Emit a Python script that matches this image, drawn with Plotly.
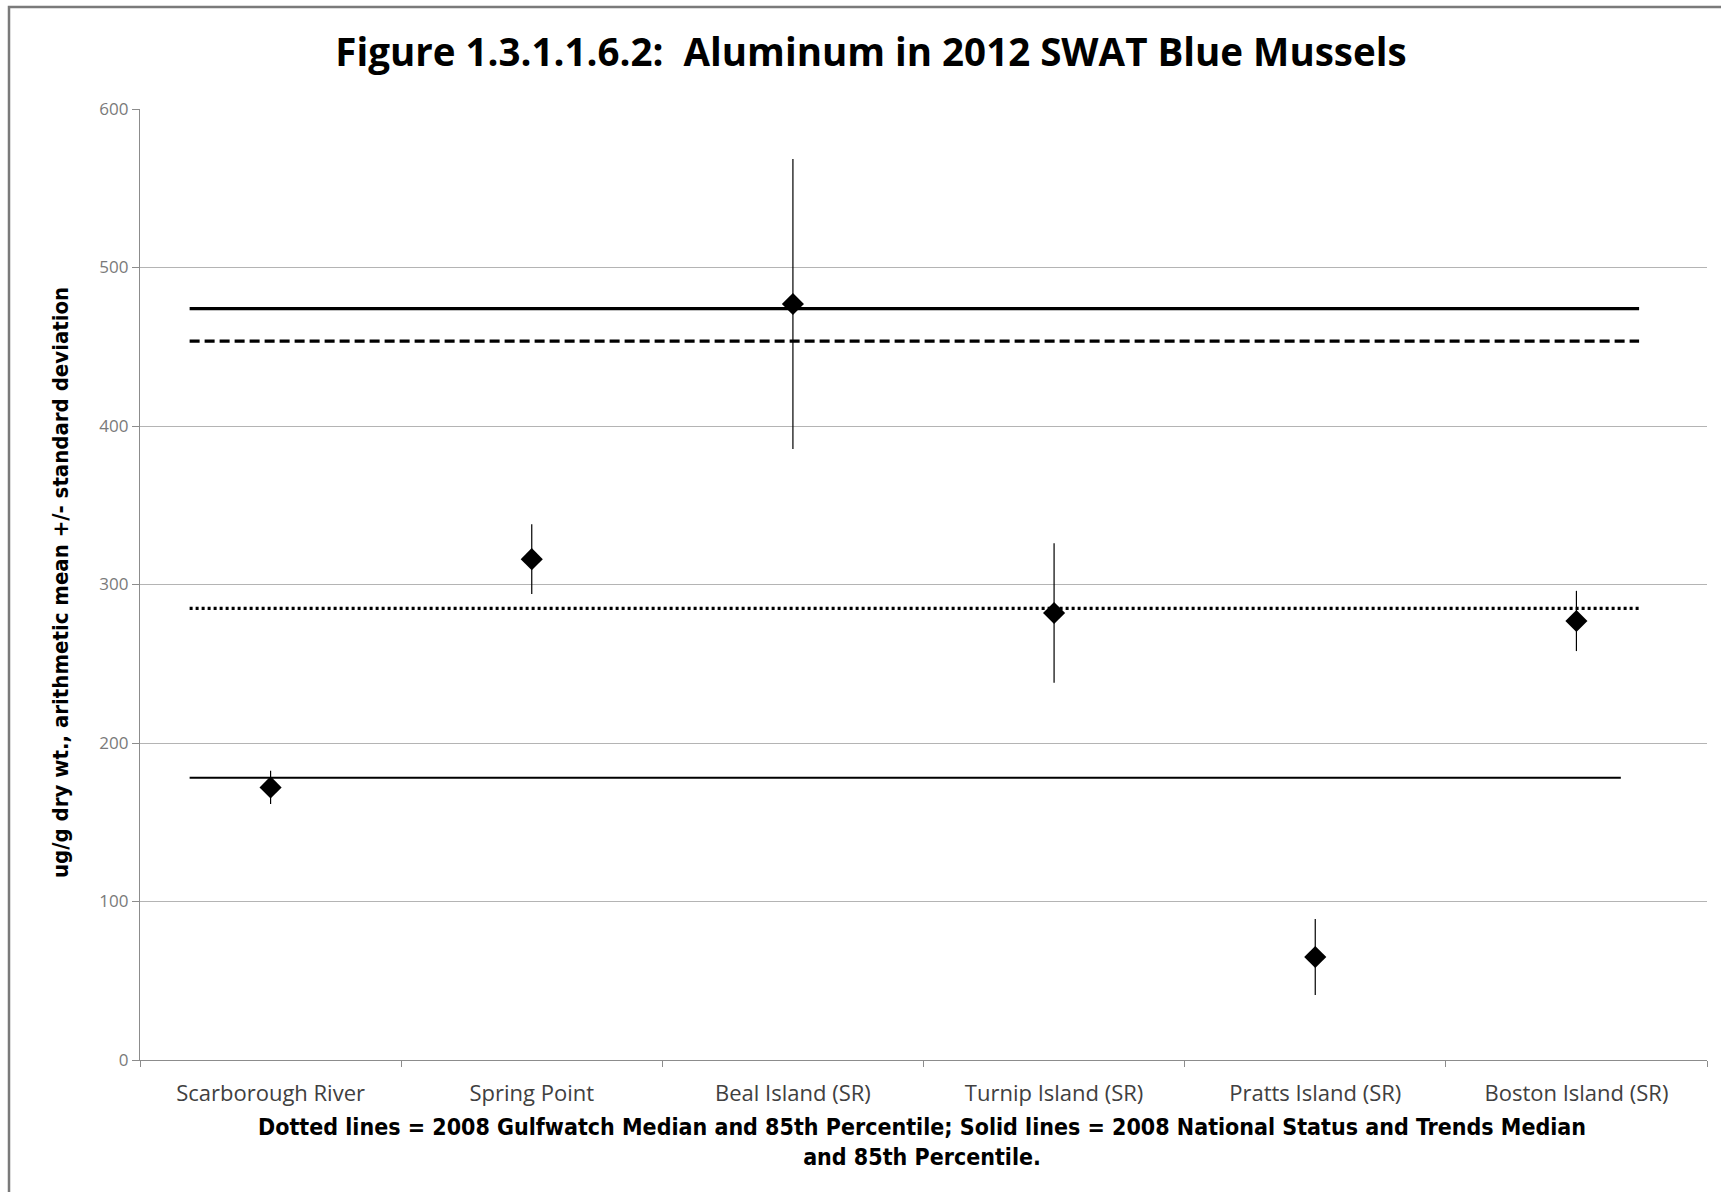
import plotly.graph_objects as go

# ---- data ----
sites = ["Scarborough River", "Spring Point", "Beal Island (SR)",
         "Turnip Island (SR)", "Pratts Island (SR)", "Boston Island (SR)"]
mean_al = [172, 316, 477, 282, 65, 277]
sd_al = [10.5, 22, 91.5, 44, 24, 19]

nst_85th = 474        # solid thick (National Status & Trends 85th pct)
gulf_85th = 453.5     # dashed (Gulfwatch 85th pct)
gulf_median = 285     # dotted (Gulfwatch median)
nst_median = 178      # solid thin (NS&T median)

y_ticks = [0, 100, 200, 300, 400, 500, 600]

title_text = "Figure 1.3.1.1.6.2:  Aluminum in 2012 SWAT Blue Mussels"
y_title = "ug/g dry wt., arithmetic mean +/- standard deviation"
caption = ("Dotted lines = 2008 Gulfwatch Median and 85th Percentile; Solid lines = 2008 "
           "National Status and Trends Median<br>and 85th Percentile.")

# ---- figure ----
W, H = 1721, 1192
L, R, T, B = 140, 1707, 109, 1060
NARROW = "DejaVu Sans Condensed, Liberation Sans, sans-serif"

x_pos = list(range(len(sites)))
fig = go.Figure()

line_start = -0.31
refs = [
    (nst_85th, 5.24, dict(color="black", width=3.2)),
    (gulf_85th, 5.24, dict(color="black", width=3.2, dash="10px,5px")),
    (gulf_median, 5.24, dict(color="black", width=3.2, dash="3px,3px")),
    (nst_median, 5.17, dict(color="black", width=2)),
]
for val, xend, ln in refs:
    fig.add_trace(go.Scatter(x=[line_start, xend], y=[val, val], mode="lines",
                             line=ln, showlegend=False, hoverinfo="skip"))

fig.add_trace(go.Scatter(
    x=x_pos, y=mean_al, mode="markers",
    marker=dict(symbol="diamond", size=17, color="black"),
    error_y=dict(type="data", array=sd_al, visible=True, color="black",
                 thickness=1.2, width=0),
    showlegend=False,
))

fig.update_layout(
    width=W, height=H,
    margin=dict(l=L, r=W - R, t=T, b=H - B),
    paper_bgcolor="white", plot_bgcolor="white",
    title=dict(text=f"<b>{title_text}</b>", x=871 / W, xanchor="center",
               y=1 - 53 / H, yanchor="middle",
               font=dict(family="Open Sans", size=38.5, color="black")),
    xaxis=dict(range=[-0.5, 5.5], tickvals=x_pos, ticktext=sites,
               showgrid=False, zeroline=False, showline=True,
               linecolor="#8c8c8c", linewidth=1.2, ticks="",
               ticklabelstandoff=13,
               tickfont=dict(family="Open Sans", size=22, color="#404040"),
               minor=dict(tickvals=[i - 0.5 for i in range(len(sites) + 1)],
                          ticks="outside", ticklen=6, tickcolor="#8c8c8c"),
               fixedrange=True),
    yaxis=dict(range=[0, 600], tickvals=y_ticks, showgrid=True,
               gridcolor="#b4b4b4", gridwidth=1, zeroline=False,
               showline=True, linecolor="#8c8c8c", linewidth=1.2,
               ticks="outside", ticklen=7, tickcolor="#8c8c8c",
               tickfont=dict(family="Open Sans", size=17, color="#7a7a7a"),
               fixedrange=True),
)

# y-axis title
fig.add_annotation(text=f"<b>{y_title}</b>", xref="paper", yref="paper",
                   x=(60 - L) / (R - L), y=(B - 583) / (B - T),
                   xanchor="center", yanchor="middle", textangle=-90, showarrow=False,
                   font=dict(family=NARROW, size=22, color="black"))

# caption
fig.add_annotation(text=f"<b>{caption}</b>", xref="paper", yref="paper",
                   x=(922 - L) / (R - L), y=-(1142 - B) / (B - T),
                   xanchor="center", yanchor="middle", showarrow=False, align="center",
                   font=dict(family=NARROW, size=23, color="black"))

# outer chart border
fig.add_shape(type="rect", xref="paper", yref="paper",
              x0=(9 - L) / (R - L), x1=(W + 5 - L) / (R - L),
              y0=-(H + 5 - B) / (B - T), y1=1 + (T - 7) / (B - T),
              line=dict(color="#7a7a7a", width=2.5), layer="below")

fig.write_html("out.html", config={"displayModeBar": False},
               post_script="document.body.style.margin='0';")
